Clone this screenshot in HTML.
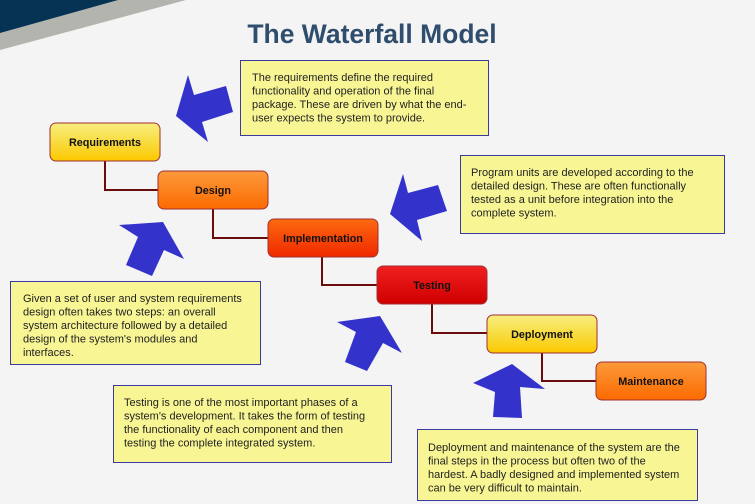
<!DOCTYPE html>
<html><head><style>
html,body{margin:0;padding:0;background:#f4f4f4;}
svg{display:block;}
text{font-family:"Liberation Sans",Arial,sans-serif;}
.t{font-size:11px;fill:#222;}
.b{font-size:10.8px;font-weight:bold;fill:#111;}
</style></head><body>
<svg width="755" height="504" viewBox="0 0 755 504" xmlns="http://www.w3.org/2000/svg">
<defs>
<linearGradient id="gy" x1="0" y1="0" x2="0" y2="1"><stop offset="0" stop-color="#f8ee80"/><stop offset="0.5" stop-color="#f8dc40"/><stop offset="1" stop-color="#fcc800"/></linearGradient>
<linearGradient id="go" x1="0" y1="0" x2="0" y2="1"><stop offset="0" stop-color="#fc9a3c"/><stop offset="1" stop-color="#fc6a00"/></linearGradient>
<linearGradient id="gi" x1="0" y1="0" x2="0" y2="1"><stop offset="0" stop-color="#fc6a10"/><stop offset="1" stop-color="#f02800"/></linearGradient>
<linearGradient id="gr" x1="0" y1="0" x2="0" y2="1"><stop offset="0" stop-color="#f02020"/><stop offset="1" stop-color="#d00000"/></linearGradient>
</defs>
<rect width="755" height="504" fill="#f4f4f4"/>
<polygon points="0,0 186,0 0,50" fill="#b4b4ae"/>
<polygon points="0,0 118,0 0,33" fill="#063354"/>
<text x="372" y="43" text-anchor="middle" font-size="26.5" font-weight="bold" fill="#2f4d6d">The Waterfall Model</text>

<g stroke="#6a0c0c" stroke-width="2" fill="none">
<polyline points="105,161 105,190 158,190"/>
<polyline points="213,209 213,238 268,238"/>
<polyline points="322,257 322,285 377,285"/>
<polyline points="432,304 432,333 487,333"/>
<polyline points="542,353 542,381 596,381"/>
</g>

<g stroke="#a03030" stroke-width="1">
<rect x="50" y="123" width="110" height="38" rx="6" fill="url(#gy)"/>
<rect x="158" y="171" width="110" height="38" rx="6" fill="url(#go)"/>
<rect x="268" y="219" width="110" height="38" rx="6" fill="url(#gi)"/>
<rect x="377" y="266" width="110" height="38" rx="6" fill="url(#gr)"/>
<rect x="487" y="315" width="110" height="38" rx="6" fill="url(#gy)"/>
<rect x="596" y="362" width="110" height="38" rx="6" fill="url(#go)"/>
</g>
<text class="b" x="105" y="146" text-anchor="middle">Requirements</text>
<text class="b" x="213" y="194" text-anchor="middle">Design</text>
<text class="b" x="323" y="242" text-anchor="middle">Implementation</text>
<text class="b" x="432" y="289" text-anchor="middle">Testing</text>
<text class="b" x="542" y="338" text-anchor="middle">Deployment</text>
<text class="b" x="651" y="385" text-anchor="middle">Maintenance</text>

<g fill="#3333cc">
<polygon points="188,75 194,95 226,86 233,112 202,122 208,142 176,116"/>
<polygon points="119,225 163,222 184,259 164,250 152,276 126,265 138,237"/>
<polygon points="403,174 408,193 438,185 447,211 417,220 422,241 390,214"/>
<polygon points="337,322 380,316 402,353 383,343 367,371 345,362 356,332"/>
<polygon points="473,383 512,364 545,389 520,387 522,418 493,417 495,392"/>
</g>

<g fill="#f8f694" stroke="#3a3aa0" stroke-width="1">
<rect x="240.5" y="60.5" width="248" height="75"/>
<rect x="460.5" y="155.5" width="264" height="78"/>
<rect x="10.5" y="281.5" width="250" height="83"/>
<rect x="113.5" y="385.5" width="278" height="77"/>
<rect x="417.5" y="429.5" width="280" height="71"/>
</g>
<g>
<text class="t" x="252" y="81">The requirements define the required</text>
<text class="t" x="252" y="94.5">functionality and operation of the final</text>
<text class="t" x="252" y="108">package. These are driven by what the end-</text>
<text class="t" x="252" y="121.5">user expects the system to provide.</text>

<text class="t" x="471" y="176">Program units are developed according to the</text>
<text class="t" x="471" y="189.5">detailed design. These are often functionally</text>
<text class="t" x="471" y="203">tested as a unit before integration into the</text>
<text class="t" x="471" y="216.5">complete system.</text>

<text class="t" x="23" y="302">Given a set of user and system requirements</text>
<text class="t" x="23" y="315.5">design often takes two steps: an overall</text>
<text class="t" x="23" y="329">system architecture followed by a detailed</text>
<text class="t" x="23" y="342.5">design of the system's modules and</text>
<text class="t" x="23" y="356">interfaces.</text>

<text class="t" x="124" y="406">Testing is one of the most important phases of a</text>
<text class="t" x="124" y="419.5">system's development. It takes the form of testing</text>
<text class="t" x="124" y="433">the functionality of each component and then</text>
<text class="t" x="124" y="446.5">testing the complete integrated system.</text>

<text class="t" x="428" y="451">Deployment and maintenance of the system are the</text>
<text class="t" x="428" y="464.5">final steps in the process but often two of the</text>
<text class="t" x="428" y="478">hardest. A badly designed and implemented system</text>
<text class="t" x="428" y="491.5">can be very difficult to maintain.</text>
</g>
</svg>
</body></html>
